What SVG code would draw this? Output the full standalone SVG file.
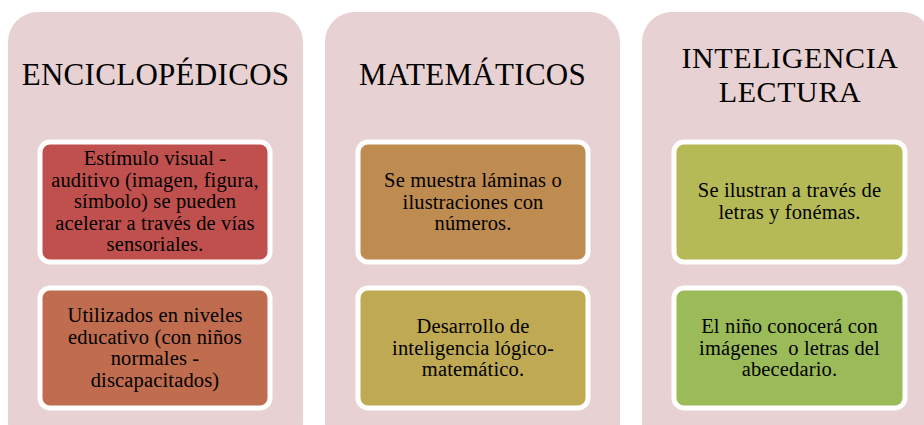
<svg xmlns="http://www.w3.org/2000/svg" width="924" height="425" viewBox="0 0 924 425">
<style>
.panel{fill:#e7d1d2}
.box{stroke:#ffffff;stroke-width:5}
.title{font-family:"Liberation Serif","Times New Roman",serif;font-size:31px;letter-spacing:0.3px;fill:#000;text-anchor:middle}
.title2{font-size:30px;letter-spacing:0.6px}
.t{font-family:"Liberation Serif","Times New Roman",serif;font-size:20.5px;letter-spacing:0.15px;fill:#000;text-anchor:middle;white-space:pre}
</style>
<rect width="924" height="425" fill="#ffffff"/>
<g id="enciclopedicos">
<rect class="panel" x="8" y="12" width="295" height="440" rx="30"/>
<text class="title" x="155.5" y="85">ENCICLOPÉDICOS</text>
</g>
<g id="matematicos">
<rect class="panel" x="325" y="12" width="295" height="440" rx="30"/>
<text class="title" x="472.5" y="85">MATEMÁTICOS</text>
</g>
<g id="lectura">
<rect class="panel" x="642" y="12" width="290" height="440" rx="30"/>
<text class="title title2" x="790" y="68">INTELIGENCIA</text>
<text class="title title2" x="790" y="102">LECTURA</text>
</g>
<g id="e1">
<rect class="box" x="40" y="142" width="230" height="120" rx="10" fill="#c0504d"/>
<text class="t" x="155" y="165">Estímulo visual -</text>
<text class="t" x="155" y="186.5">auditivo (imagen, figura,</text>
<text class="t" x="155" y="208">símbolo) se pueden</text>
<text class="t" x="155" y="229.5">acelerar a través de vías</text>
<text class="t" x="155" y="251">sensoriales.</text>
</g>
<g id="e2">
<rect class="box" x="40" y="288" width="230" height="120" rx="10" fill="#bf6c4f"/>
<text class="t" x="155" y="322">Utilizados en niveles</text>
<text class="t" x="155" y="343.5">educativo (con niños</text>
<text class="t" x="155" y="365">normales -</text>
<text class="t" x="155" y="386.5">discapacitados)</text>
</g>
<g id="m1">
<rect class="box" x="358" y="142" width="230" height="120" rx="10" fill="#be8b51"/>
<text class="t" x="473" y="187">Se muestra láminas o</text>
<text class="t" x="473" y="208.5">ilustraciones con</text>
<text class="t" x="473" y="230">números.</text>
</g>
<g id="m2">
<rect class="box" x="358" y="288" width="230" height="120" rx="10" fill="#bfa953"/>
<text class="t" x="473" y="333">Desarrollo de</text>
<text class="t" x="473" y="354.5">inteligencia lógico-</text>
<text class="t" x="473" y="376">matemático.</text>
</g>
<g id="l1">
<rect class="box" x="674" y="142" width="231" height="120" rx="10" fill="#b5ba56"/>
<text class="t" x="789.5" y="197">Se ilustran a través de</text>
<text class="t" x="789.5" y="218.5">letras y fonémas.</text>
</g>
<g id="l2">
<rect class="box" x="674" y="288" width="231" height="120" rx="10" fill="#9bbb59"/>
<text class="t" x="789.5" y="333">El niño conocerá con</text>
<text class="t" x="789.5" y="354.5">imágenes  o letras del</text>
<text class="t" x="789.5" y="376">abecedario.</text>
</g>
<g id="connectors"></g>
</svg>
